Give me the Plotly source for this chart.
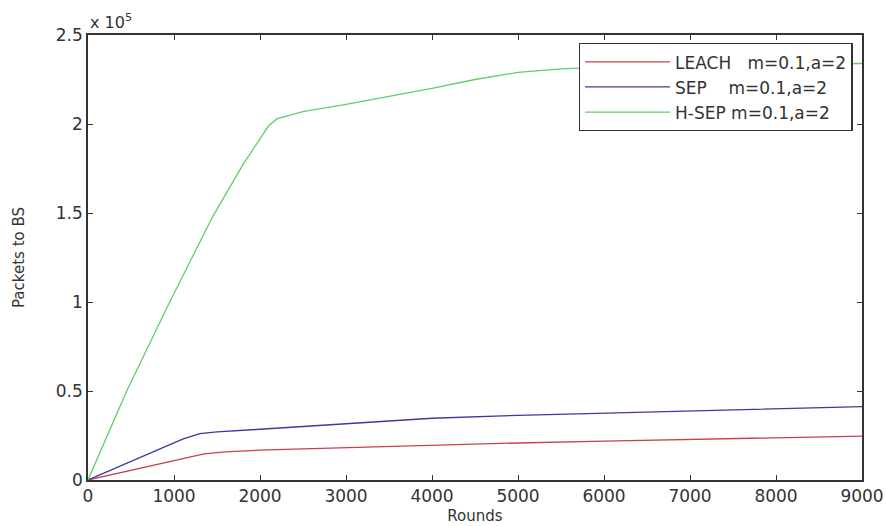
import plotly.graph_objects as go

# Data (rounds vs packets delivered to BS)
leach_rounds = [0, 700, 1350, 1600, 2000, 2500, 3000, 4000, 5000, 6000, 7000, 8000, 9000]
leach_packets = [0, 7800, 14700, 15800, 16800, 17500, 18200, 19700, 20800, 21800, 22900, 24000, 24700]

sep_rounds = [0, 700, 1100, 1300, 1500, 2000, 2500, 3000, 4000, 5000, 6000, 7000, 8000, 9000]
sep_packets = [0, 14500, 23000, 26000, 27000, 28500, 30000, 31800, 34700, 36300, 37500, 38500, 40000, 41200]

hsep_rounds = [0, 450, 950, 1450, 1800, 2100, 2200, 2500, 3000, 3500, 4000, 4500, 5000, 5500, 6000, 7000, 8000, 9000]
hsep_packets = [0, 50000, 100000, 148000, 177000, 199000, 203000, 207000, 211000, 215500, 220000, 225000, 229000, 231000, 232000, 233000, 233500, 234000]

legend_names = ["LEACH\u00a0\u00a0\u00a0m=0.1,a=2", "SEP\u00a0\u00a0\u00a0\u00a0m=0.1,a=2", "H-SEP m=0.1,a=2"]
y_tickvals = [0, 50000, 100000, 150000, 200000, 250000]
y_ticktext = ["0", "0.5", "1", "1.5", "2", "2.5"]
x_tickvals = [0, 1000, 2000, 3000, 4000, 5000, 6000, 7000, 8000, 9000]

FONT = "DejaVu Sans"
TXT = "#333333"

fig = go.Figure()
fig.add_trace(go.Scatter(x=leach_rounds, y=leach_packets, mode="lines", name=legend_names[0],
                         line=dict(color="#c8404e", width=1.3)))
fig.add_trace(go.Scatter(x=sep_rounds, y=sep_packets, mode="lines", name=legend_names[1],
                         line=dict(color="#3a3a9c", width=1.3)))
fig.add_trace(go.Scatter(x=hsep_rounds, y=hsep_packets, mode="lines", name=legend_names[2],
                         line=dict(color="#5fcf6a", width=1.3)))

axis_common = dict(showgrid=False, zeroline=False, showline=True, linecolor="#333333", linewidth=1.5,
                   mirror="ticks", ticks="inside", ticklen=5, tickcolor="#333333", tickwidth=1.3,
                   automargin=False,
                   tickfont=dict(family=FONT, size=17, color=TXT))

fig.update_layout(
    width=886, height=526,
    margin=dict(l=88, r=24, t=35, b=46),
    paper_bgcolor="white", plot_bgcolor="white",
    font=dict(family=FONT, color=TXT),
    xaxis=dict(range=[0, 9000], tickvals=x_tickvals,
               title=dict(text="Rounds", font=dict(family=FONT, size=15, color=TXT), standoff=5),
               **axis_common),
    yaxis=dict(range=[0, 250000], tickvals=y_tickvals, ticktext=y_ticktext,
               title=dict(text="Packets to BS", font=dict(family=FONT, size=15, color=TXT), standoff=28),
               **axis_common),
    legend=dict(x=0.988, y=0.982, xanchor="right", yanchor="top",
                bgcolor="white", bordercolor="#333333", borderwidth=1.3,
                font=dict(family=FONT, size=17, color=TXT),
                itemwidth=85, tracegroupgap=0),
    showlegend=True,
)

fig.add_annotation(xref="paper", yref="paper", x=0, y=1, xanchor="left", yanchor="bottom",
                   text="x 10<sup>5</sup>", showarrow=False, yshift=1,
                   font=dict(family=FONT, size=16, color=TXT))

fig.write_html("out.html", config={"displayModeBar": False},
               post_script="document.body.style.margin='0';")
